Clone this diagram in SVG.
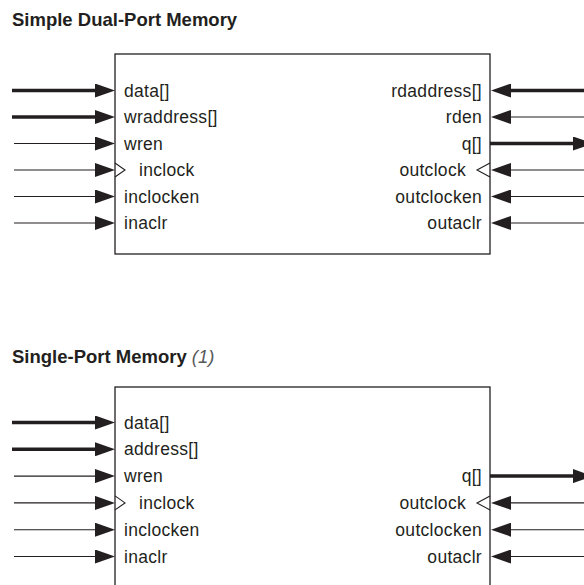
<svg xmlns="http://www.w3.org/2000/svg" width="584" height="585" viewBox="0 0 584 585">
<style>
.title{font-family:"Liberation Sans",Arial,sans-serif;font-weight:bold;font-size:18.5px;fill:#231f20}
.note{font-family:"Liberation Sans",Arial,sans-serif;font-style:italic;font-size:18.5px;fill:#58595b}
.lbl{font-family:"Liberation Sans",Arial,sans-serif;font-size:17.5px;letter-spacing:0.3px;fill:#231f20}
.r{text-anchor:end}
.box{fill:#fff;stroke:#231f20;stroke-width:1.3}
.bus{stroke:#231f20;stroke-width:3.5;fill:none}
.sig{stroke:#231f20;stroke-width:1.1;fill:none}
.clk{stroke:#231f20;stroke-width:1.1;fill:none}
</style>
<defs>
<marker id="ah" viewBox="0 0 20 14" refX="0" refY="7" markerWidth="20" markerHeight="14" markerUnits="userSpaceOnUse" orient="auto">
<path d="M0,0 L20,7 L0,14 Z" fill="#231f20"/>
</marker>
</defs>
<rect width="584" height="585" fill="#fff"/>
<text class="title" x="12" y="25.5">Simple Dual-Port Memory</text>
<text x="12" y="363"><tspan class="title">Single-Port Memory</tspan><tspan class="note" dx="5">(1)</tspan></text>

<g id="dualport">
<rect class="box" x="115" y="54" width="375" height="200"/>
<text class="lbl" x="124" y="96.5">data[]</text>
<text class="lbl" x="124" y="123">wraddress[]</text>
<text class="lbl" x="124" y="149.5">wren</text>
<text class="lbl" x="139" y="176">inclock</text>
<text class="lbl" x="124" y="202.5">inclocken</text>
<text class="lbl" x="124" y="229">inaclr</text>
<text class="lbl r" x="482" y="96.5">rdaddress[]</text>
<text class="lbl r" x="482" y="123">rden</text>
<text class="lbl r" x="482" y="149.5">q[]</text>
<text class="lbl r" x="466" y="176">outclock</text>
<text class="lbl r" x="482" y="202.5">outclocken</text>
<text class="lbl r" x="482" y="229">outaclr</text>
<path class="clk" d="M115,163 L125,170 L115,177"/>
<path class="clk" d="M490,163 L477,170 L490,177"/>
</g>

<g id="singleport">
<rect class="box" x="115" y="387" width="375" height="230"/>
<text class="lbl" x="124" y="428.5">data[]</text>
<text class="lbl" x="124" y="455.3">address[]</text>
<text class="lbl" x="124" y="482.1">wren</text>
<text class="lbl" x="139" y="508.9">inclock</text>
<text class="lbl" x="124" y="535.7">inclocken</text>
<text class="lbl" x="124" y="562.5">inaclr</text>
<text class="lbl r" x="482" y="482.1">q[]</text>
<text class="lbl r" x="466" y="508.9">outclock</text>
<text class="lbl r" x="482" y="535.7">outclocken</text>
<text class="lbl r" x="482" y="562.5">outaclr</text>
<path class="clk" d="M115,495.9 L125,502.9 L115,509.9"/>
<path class="clk" d="M490,495.9 L477,502.9 L490,509.9"/>
</g>

<g id="connectors">
<line class="bus" x1="12" y1="90.5" x2="95" y2="90.5" marker-end="url(#ah)"/>
<line class="bus" x1="12" y1="117" x2="95" y2="117" marker-end="url(#ah)"/>
<line class="sig" x1="14" y1="143.5" x2="95" y2="143.5" marker-end="url(#ah)"/>
<line class="sig" x1="14" y1="170" x2="95" y2="170" marker-end="url(#ah)"/>
<line class="sig" x1="14" y1="196.5" x2="95" y2="196.5" marker-end="url(#ah)"/>
<line class="sig" x1="14" y1="223" x2="95" y2="223" marker-end="url(#ah)"/>
<line class="bus" x1="594" y1="90.5" x2="511" y2="90.5" marker-end="url(#ah)"/>
<line class="sig" x1="594" y1="117" x2="511" y2="117" marker-end="url(#ah)"/>
<line class="bus" x1="490" y1="143.5" x2="573" y2="143.5" marker-end="url(#ah)"/>
<line class="sig" x1="594" y1="170" x2="511" y2="170" marker-end="url(#ah)"/>
<line class="sig" x1="594" y1="196.5" x2="511" y2="196.5" marker-end="url(#ah)"/>
<line class="sig" x1="594" y1="223" x2="511" y2="223" marker-end="url(#ah)"/>

<line class="bus" x1="12" y1="422.5" x2="95" y2="422.5" marker-end="url(#ah)"/>
<line class="bus" x1="12" y1="449.3" x2="95" y2="449.3" marker-end="url(#ah)"/>
<line class="sig" x1="14" y1="476.1" x2="95" y2="476.1" marker-end="url(#ah)"/>
<line class="sig" x1="14" y1="502.9" x2="95" y2="502.9" marker-end="url(#ah)"/>
<line class="sig" x1="14" y1="529.7" x2="95" y2="529.7" marker-end="url(#ah)"/>
<line class="sig" x1="14" y1="556.5" x2="95" y2="556.5" marker-end="url(#ah)"/>
<line class="bus" x1="490" y1="476.1" x2="573" y2="476.1" marker-end="url(#ah)"/>
<line class="sig" x1="594" y1="502.9" x2="511" y2="502.9" marker-end="url(#ah)"/>
<line class="sig" x1="594" y1="529.7" x2="511" y2="529.7" marker-end="url(#ah)"/>
<line class="sig" x1="594" y1="556.5" x2="511" y2="556.5" marker-end="url(#ah)"/>
</g>
</svg>
